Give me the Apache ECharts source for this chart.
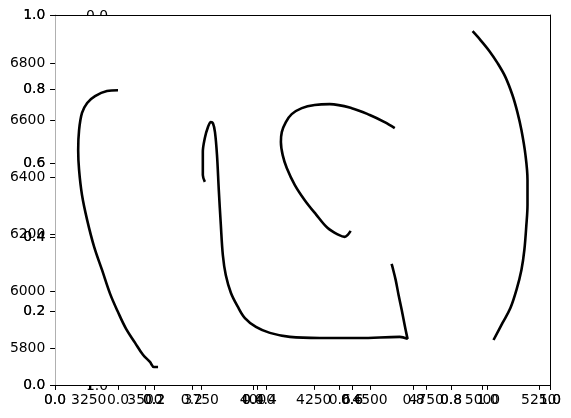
<!DOCTYPE html>
<html><head><meta charset="utf-8">
<script src="https://cdn.jsdelivr.net/npm/echarts@6/dist/echarts.min.js"></script>
<style>html,body{margin:0;padding:0;background:#fff}#c{width:571px;height:418px}</style>
</head><body><div id="c"></div>
<script>
// Data (x, y) for the four stroked curves
const curve1X = [3380,3331,3278,3243,3220,3207,3203,3207,3220,3243,3274,3309,3345,3380,3416,3456,3491,3522,3540,3558];
const curve1Y = [6706,6703,6685,6661,6626,6566,6496,6426,6338,6250,6156,6075,5991,5927,5868,5819,5777,5752,5734,5734];
const curve2X = [3766,3757,3757,3766,3780,3793,3802,3811,3820,3828,3837,3846,3859,3882,3913,3944,3993,4055,4144,4277,4454,4632,4667,4663,4654,4641,4627,4614,4601,4596];
const curve2Y = [6384,6408,6489,6538,6577,6594,6590,6559,6478,6355,6233,6127,6057,5994,5945,5906,5875,5854,5840,5836,5836,5840,5833,5847,5882,5934,5987,6040,6082,6096];
const curve3X = [4610,4565,4499,4419,4321,4254,4197,4152,4126,4108,4104,4112,4130,4166,4210,4259,4312,4361,4388,4401,4414];
const curve3Y = [6573,6594,6619,6643,6657,6654,6643,6622,6594,6559,6524,6478,6433,6373,6320,6271,6222,6198,6191,6198,6212];
const curve4X = [4956,4991,5031,5067,5102,5133,5155,5173,5191,5200,5200,5195,5186,5173,5151,5124,5089,5049];
const curve4Y = [6913,6882,6843,6801,6752,6689,6629,6566,6478,6391,6303,6233,6145,6075,6005,5941,5889,5829];
// Tick labels
const xTicks = [3250,3500,3750,4000,4250,4500,4750,5000,5250];
const yTicks = [5800,6000,6200,6400,6600,6800];
const fracTicks = [0.0,0.2,0.4,0.6,0.8,1.0];
const strayTop = '0.0';
const strayBottom = '1.0';

const FONT = 'DejaVu Sans';
const FS = 13.9;
const TICKLEN = 4.86;
const lab = {color:'#000', fontFamily:FONT, fontSize:FS};
const pairs = (xs, ys) => xs.map((x,i)=>[x, ys[i]]);
const fmt1 = v => Number(v).toFixed(1);
const fmtInt = v => String(Math.round(v));

function fracX(grid, extra){
  return Object.assign({type:'value', gridIndex:grid, position:'bottom', min:0, max:1,
    axisLine:{show:false, onZero:false},
    axisTick:{show:true, length:TICKLEN, customValues:fracTicks, lineStyle:{color:'#000', width:1}},
    axisLabel:Object.assign({show:true, margin:8.5, customValues:fracTicks, formatter:fmt1, hideOverlap:false}, lab),
    splitLine:{show:false}}, extra||{});
}
function fracY(extra){
  return Object.assign({type:'value', gridIndex:0, position:'left', min:0, max:1,
    axisLine:{show:false, onZero:false},
    axisTick:{show:true, length:TICKLEN, customValues:fracTicks, lineStyle:{color:'#000', width:1}},
    axisLabel:Object.assign({show:true, margin:9.7, customValues:fracTicks, formatter:fmt1, hideOverlap:false}, lab),
    splitLine:{show:false}}, extra||{});
}

const chart = echarts.init(document.getElementById('c'), null, {renderer:'canvas'});
const lineSeries = (xs, ys) => ({type:'line', xAxisIndex:0, yAxisIndex:0, data:pairs(xs,ys), showSymbol:false, symbol:'none',
  lineStyle:{color:'#000', width:2.6}, itemStyle:{color:'#000'}, smooth:0.35, animation:false, z:5});

chart.setOption({
  animation:false,
  backgroundColor:'#fff',
  grid:[
    {left:55, right:21, top:15, bottom:33, show:true, backgroundColor:'#fff', borderWidth:0, containLabel:false},
    {left:118, width:369.5, top:15, bottom:33, show:false, containLabel:false}
  ],
  xAxis:[
    {type:'value', gridIndex:0, position:'bottom', min:3100, max:5300,
      axisLine:{show:false, onZero:false},
      axisTick:{show:true, length:TICKLEN, customValues:xTicks, lineStyle:{color:'#000', width:1}},
      axisLabel:Object.assign({show:true, margin:8.5, customValues:xTicks, formatter:fmtInt, hideOverlap:false}, lab),
      splitLine:{show:false}},
    fracX(0, {axisLine:{show:true, onZero:false, lineStyle:{color:'#000', width:1}}}),
    fracX(0),
    {type:'value', gridIndex:0, position:'top', min:0, max:1,
      axisLine:{show:true, onZero:false, lineStyle:{color:'#000', width:1}},
      axisTick:{show:false}, axisLabel:{show:false}, splitLine:{show:false}},
    fracX(1)
  ],
  yAxis:[
    {type:'value', gridIndex:0, position:'left', min:5671, max:6970,
      axisLine:{show:true, onZero:false, lineStyle:{color:'#b0b0b0', width:1}},
      axisTick:{show:true, length:TICKLEN, customValues:yTicks, lineStyle:{color:'#000', width:1}},
      axisLabel:Object.assign({show:true, margin:9.7, customValues:yTicks, formatter:fmtInt, hideOverlap:false}, lab),
      splitLine:{show:false}},
    fracY(),
    fracY(),
    {type:'value', gridIndex:0, position:'right', min:0, max:1,
      axisLine:{show:true, onZero:false, lineStyle:{color:'#000', width:1}},
      axisTick:{show:false}, axisLabel:{show:false}, splitLine:{show:false}},
    {type:'value', gridIndex:1, min:0, max:1, show:false}
  ],
  graphic:[
    {type:'text', left:86, top:9.2, z:-10, zlevel:0,
      style:{text:strayTop, fill:'#000', font:FS+'px "'+FONT+'"'}},
    {type:'text', left:86, top:379.5, z:-10, zlevel:0,
      style:{text:strayBottom, fill:'#000', font:FS+'px "'+FONT+'"'}}
  ],
  series:[
    lineSeries(curve1X, curve1Y),
    lineSeries(curve2X, curve2Y),
    lineSeries(curve3X, curve3Y),
    lineSeries(curve4X, curve4Y)
  ]
});
</script>
</body></html>
